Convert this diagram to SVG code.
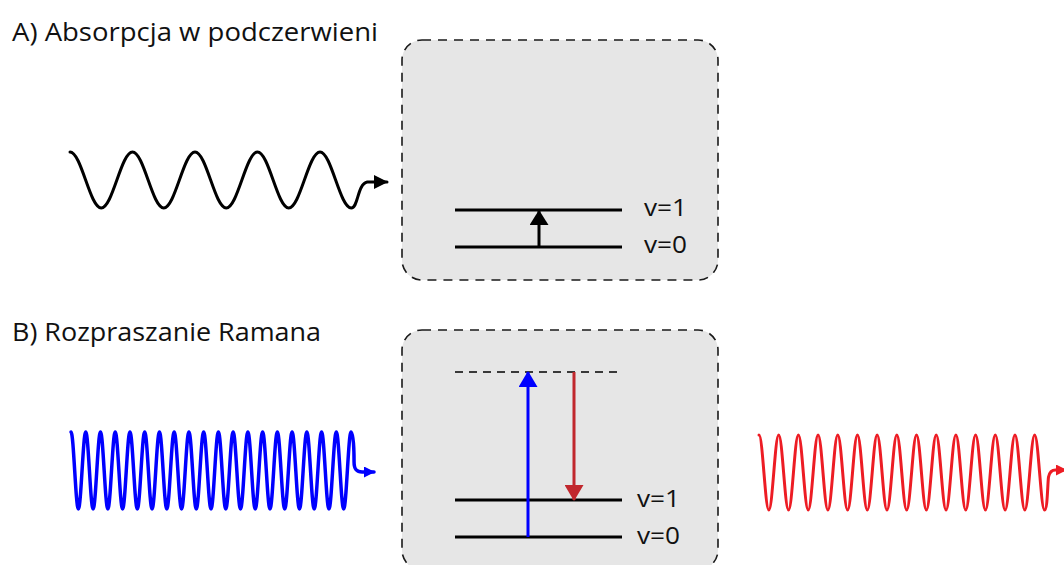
<svg xmlns="http://www.w3.org/2000/svg" width="1064" height="565" viewBox="0 0 1064 565">
<style>
.title{font-family:"Open Sans","Noto Sans",sans-serif;font-size:25px;fill:#111}
.lbl{font-family:"Open Sans","Noto Sans",sans-serif;font-size:23px;fill:#111}
.box{fill:#e6e6e6;stroke:#1a1a1a;stroke-width:1.6;stroke-dasharray:9 7}
.lvl{stroke:#000;stroke-width:3;fill:none}
.virt{stroke:#000;stroke-width:1.3;stroke-dasharray:8 6;fill:none}
.wave{fill:none;stroke-linecap:round;stroke-linejoin:round}
</style>
<defs>
<marker id="hBlack" viewBox="0 0 14 14" refX="13" refY="7" markerWidth="14" markerHeight="14" markerUnits="userSpaceOnUse" orient="auto"><path d="M0,0 L14,7 L0,14 z" fill="#000"/></marker>
<marker id="hBlue" viewBox="0 0 11 11" refX="10" refY="5.5" markerWidth="11" markerHeight="11" markerUnits="userSpaceOnUse" orient="auto"><path d="M0,0 L11,5.5 L0,11 z" fill="#0000ff"/></marker>
<marker id="hRed" viewBox="0 0 11 11" refX="10" refY="5.5" markerWidth="11" markerHeight="11" markerUnits="userSpaceOnUse" orient="auto"><path d="M0,0 L11,5.5 L0,11 z" fill="#ed1c24"/></marker>
<marker id="lBlack" viewBox="0 0 15 19" refX="14" refY="9.5" markerWidth="15" markerHeight="19" markerUnits="userSpaceOnUse" orient="auto"><path d="M0,0 L15,9.5 L0,19 z" fill="#000"/></marker>
<marker id="lBlue" viewBox="0 0 16 19" refX="15" refY="9.5" markerWidth="16" markerHeight="19" markerUnits="userSpaceOnUse" orient="auto"><path d="M0,0 L16,9.5 L0,19 z" fill="#0000ff"/></marker>
<marker id="lRed" viewBox="0 0 16 19" refX="15" refY="9.5" markerWidth="16" markerHeight="19" markerUnits="userSpaceOnUse" orient="auto"><path d="M0,0 L16,9.5 L0,19 z" fill="#c1272d"/></marker>
</defs>

<text class="title" x="12" y="41" textLength="366" lengthAdjust="spacingAndGlyphs">A) Absorpcja w podczerwieni</text>
<text class="title" x="12" y="341" textLength="309" lengthAdjust="spacingAndGlyphs">B) Rozpraszanie Ramana</text>

<g id="boxA">
<rect class="box" x="402" y="40" width="316" height="240" rx="20"/>
<line class="lvl" x1="455" y1="210" x2="622" y2="210"/>
<line class="lvl" x1="455" y1="247" x2="622" y2="247"/>
<text class="lbl" x="644" y="216" textLength="43" lengthAdjust="spacingAndGlyphs">v=1</text>
<text class="lbl" x="644" y="253" textLength="43" lengthAdjust="spacingAndGlyphs">v=0</text>
</g>

<g id="boxB">
<rect class="box" x="402" y="330" width="316" height="240" rx="20"/>
<line class="virt" x1="455" y1="372" x2="622" y2="372"/>
<line class="lvl" x1="455" y1="500" x2="622" y2="500"/>
<line class="lvl" x1="455" y1="537" x2="622" y2="537"/>
<text class="lbl" x="637" y="507" textLength="43" lengthAdjust="spacingAndGlyphs">v=1</text>
<text class="lbl" x="637" y="544" textLength="43" lengthAdjust="spacingAndGlyphs">v=0</text>
</g>

<g id="connectors">
<path class="wave" stroke="#000" stroke-width="3" marker-end="url(#hBlack)" d="M70,152 c11.38,0 19.870,56 31.25,56 c11.38,0 19.87,-56 31.25,-56 c11.38,0 19.87,56 31.25,56 c11.38,0 19.87,-56 31.25,-56 c11.38,0 19.87,56 31.25,56 c11.38,0 19.87,-56 31.25,-56 c11.38,0 19.87,56 31.25,56 c11.38,0 19.87,-56 31.25,-56 c11.38,0 19.87,56 31.25,56 c7,0 6,-24 16,-26 L387,182"/>
<path class="wave" stroke="#0000ff" stroke-width="3.5" marker-end="url(#hBlue)" d="M71,432 c2.68,0 4.69,77 7.37,77 c2.68,0 4.69,-77 7.37,-77 c2.68,0 4.69,77 7.37,77 c2.68,0 4.69,-77 7.37,-77 c2.68,0 4.69,77 7.37,77 c2.68,0 4.69,-77 7.37,-77 c2.68,0 4.69,77 7.37,77 c2.68,0 4.69,-77 7.37,-77 c2.68,0 4.69,77 7.37,77 c2.68,0 4.69,-77 7.37,-77 c2.68,0 4.69,77 7.37,77 c2.68,0 4.69,-77 7.37,-77 c2.68,0 4.69,77 7.37,77 c2.68,0 4.69,-77 7.37,-77 c2.68,0 4.69,77 7.37,77 c2.68,0 4.69,-77 7.37,-77 c2.68,0 4.69,77 7.37,77 c2.68,0 4.69,-77 7.37,-77 c2.68,0 4.69,77 7.37,77 c2.68,0 4.69,-77 7.37,-77 c2.68,0 4.69,77 7.37,77 c2.68,0 4.69,-77 7.37,-77 c2.68,0 4.69,77 7.37,77 c2.68,0 4.69,-77 7.37,-77 c2.68,0 4.69,77 7.37,77 c2.68,0 4.69,-77 7.37,-77 c2.68,0 4.69,77 7.37,77 c2.68,0 4.69,-77 7.37,-77 c2.68,0 4.69,77 7.37,77 c2.68,0 4.69,-77 7.37,-77 c2.68,0 4.69,77 7.37,77 c2.68,0 4.69,-77 7.37,-77 c2.68,0 4.69,77 7.37,77 c2.68,0 4.69,-77 7.37,-77 c2.68,0 4.69,77 7.37,77 c2.68,0 4.69,-77 7.37,-77 c2.68,0 4.69,77 7.37,77 c2.68,0 4.69,-77 7.37,-77 c2.5,0 3,20 3,30 c0,8 3,10 8,10 L374,472"/>
<path class="wave" stroke="#ed1c24" stroke-width="3" marker-end="url(#hRed)" d="M759,435 c3.585,0 6.26,75 9.845,75 c3.585,0 6.26,-75 9.845,-75 c3.585,0 6.26,75 9.845,75 c3.585,0 6.26,-75 9.845,-75 c3.585,0 6.26,75 9.845,75 c3.585,0 6.26,-75 9.845,-75 c3.585,0 6.26,75 9.845,75 c3.585,0 6.26,-75 9.845,-75 c3.585,0 6.26,75 9.845,75 c3.585,0 6.26,-75 9.845,-75 c3.585,0 6.26,75 9.845,75 c3.585,0 6.26,-75 9.845,-75 c3.585,0 6.26,75 9.845,75 c3.585,0 6.26,-75 9.845,-75 c3.585,0 6.26,75 9.845,75 c3.585,0 6.26,-75 9.845,-75 c3.585,0 6.26,75 9.845,75 c3.585,0 6.26,-75 9.845,-75 c3.585,0 6.26,75 9.845,75 c3.585,0 6.26,-75 9.845,-75 c3.585,0 6.26,75 9.845,75 c3.585,0 6.26,-75 9.845,-75 c3.585,0 6.26,75 9.845,75 c3.585,0 6.26,-75 9.845,-75 c3.585,0 6.26,75 9.845,75 c3.585,0 6.26,-75 9.845,-75 c3.585,0 6.26,75 9.845,75 c3.585,0 6.26,-75 9.845,-75 c3.585,0 6.26,75 9.845,75 c3,0 3,-25 4,-33 c1,-5 3,-7 7,-7 L1066,470"/>
<line stroke="#000" stroke-width="3" x1="539" y1="247" x2="539" y2="211" marker-end="url(#lBlack)"/>
<line stroke="#0000ff" stroke-width="3" x1="528" y1="537" x2="528" y2="372" marker-end="url(#lBlue)"/>
<line stroke="#c1272d" stroke-width="3" x1="574" y1="372" x2="574" y2="500" marker-end="url(#lRed)"/>
</g>
</svg>
